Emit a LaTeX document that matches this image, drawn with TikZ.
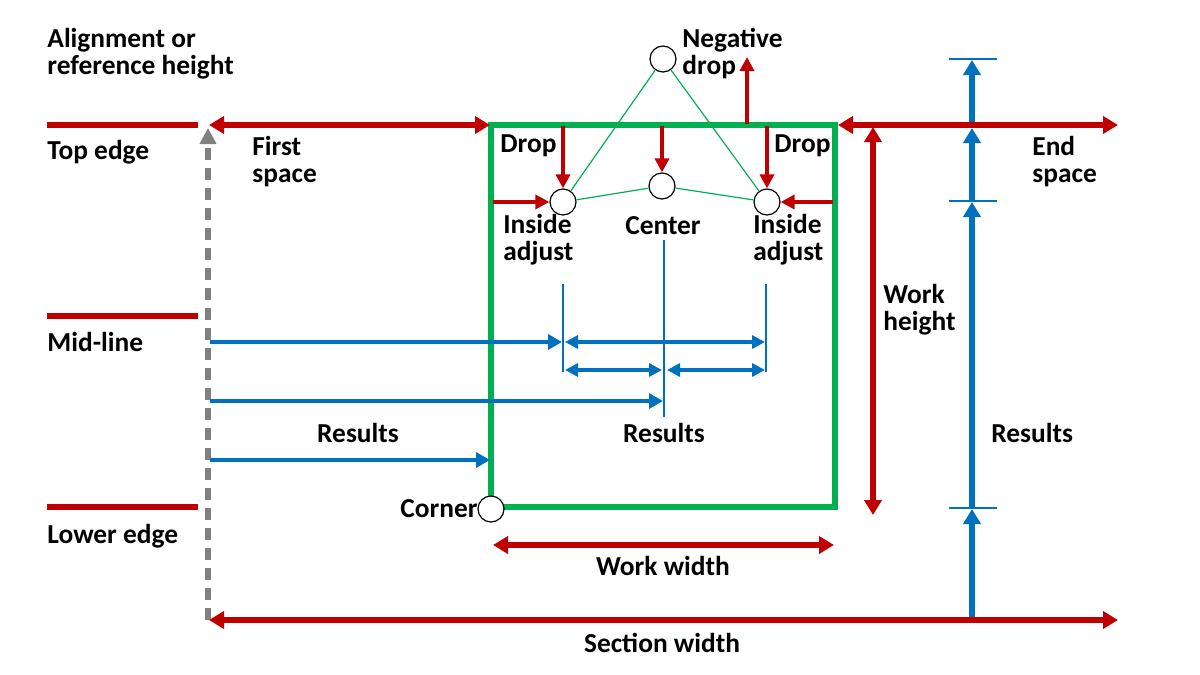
\documentclass[tikz,border=0pt]{standalone}
\usepackage{fontspec}
\setmainfont{Carlito}
\usetikzlibrary{arrows.meta}
\definecolor{myred}{RGB}{192,0,0}
\definecolor{myblue}{RGB}{0,112,192}
\definecolor{mygreen}{RGB}{0,176,80}
\definecolor{mygray}{RGB}{128,128,128}
\begin{document}
\begin{tikzpicture}[x=0.5pt,y=-0.5pt,
  lbl/.style={font=\fontsize{13.7}{13.5}\selectfont\bfseries, inner sep=0pt, align=left},
  redl/.style={draw=myred, line width=2.7pt},
  redd/.style={redl, {Triangle[length=7.5pt,width=8.5pt]}-{Triangle[length=7.5pt,width=8.5pt]}},
  reds/.style={draw=myred, line width=2.4pt, -{Triangle[length=7pt,width=7pt]}},
  bluea/.style={draw=myblue, line width=2.3pt, -{Triangle[length=7pt,width=7.5pt]}},
  blued/.style={draw=myblue, line width=2.3pt, {Triangle[length=6.5pt,width=6.5pt]}-{Triangle[length=6.5pt,width=6.5pt]}},
  bluev/.style={draw=myblue, line width=2.7pt, -{Triangle[length=7.5pt,width=8.5pt]}},
  thinb/.style={draw=myblue, line width=0.6pt},
  pt/.style={circle, draw=black, fill=white, line width=0.6pt, minimum size=13pt, inner sep=0pt},
  link/.style={draw=mygreen, line width=0.6pt}
]
\useasboundingbox (0,0) rectangle (1200,675);

% left reference lines
\draw[redl] (47,125) -- (198,125);
\draw[redl] (47,316) -- (198,316);
\draw[redl] (47,507) -- (198,507);

% gray dashed reference
\draw[mygray, line width=2.6pt, dash pattern=on 6pt off 4pt, -{Triangle[length=8pt,width=8pt]}] (208,620) -- (208,128);

% green work box
\draw[mygreen, line width=2.6pt] (491,125) rectangle (835,507);

% blue vertical results
\draw[bluev] (972,620) -- (972,509);
\draw[bluev] (972,507) -- (972,202);
\draw[bluev] (972,201) -- (972,128);
\draw[bluev] (972,125) -- (972,60);
\draw[thinb] (949,59) -- (997,59);
\draw[thinb] (949,201) -- (997,201);
\draw[thinb] (949,508) -- (997,508);

% red dimension arrows
\draw[redd] (209,125) -- (490,125);
\draw[redd] (838,125) -- (1118,125);
\draw[redd] (873,127) -- (873,515);
\draw[redd] (493,545) -- (834,545);
\draw[redd] (209,620) -- (1118,620);

% circles
\node[pt] (neg) at (663,59) {};
\node[pt] (inl) at (563,202) {};
\node[pt] (cen) at (662,186) {};
\node[pt] (inr) at (767,202) {};
\node[pt] (cor) at (491,509) {};

% green links
\draw[link] (neg) -- (inl);
\draw[link] (neg) -- (inr);
\draw[link] (inl) -- (cen);
\draw[link] (cen) -- (inr);

% drop arrows
\draw[reds] (563,126) -- (inl.north);
\draw[reds] (662,126) -- (cen.north);
\draw[reds] (767,126) -- (inr.north);
\draw[reds] (747,124) -- (747,57);
\draw[reds] (493,202) -- (inl.west);
\draw[reds] (833,202) -- (inr.east);

% thin blue guides
\draw[thinb] (563,284) -- (563,372);
\draw[thinb] (664,240) -- (664,417);
\draw[thinb] (766,284) -- (766,372);

% blue horizontal results
\draw[bluea] (210,342) -- (562,342);
\draw[blued] (565,342) -- (765,342);
\draw[blued] (565,370) -- (662,370);
\draw[blued] (667,370) -- (765,370);
\draw[bluea] (210,401) -- (663,401);
\draw[bluea] (210,460) -- (490,460);

% labels
\node[lbl, anchor=west] (alg) at (47,54) {Alignment or\\reference height};
\node[lbl, anchor=west] (top) at (47,152) {Top edge};
\node[lbl, anchor=west] (mid) at (47,342) {Mid-line};
\node[lbl, anchor=west] (low) at (47,536) {Lower edge};
\node[lbl, anchor=west] (first) at (252,162) {First\\space};
\node[lbl, anchor=west] (dropl) at (500,146) {Drop};
\node[lbl, anchor=west] (dropr) at (774,146) {Drop};
\node[lbl, anchor=west] (negt) at (682,54) {Negative\\drop};
\node[lbl, anchor=west] (insl) at (503,240) {Inside\\adjust};
\node[lbl] (centt) at (663,226) {Center};
\node[lbl, anchor=west] (insr) at (753,240) {Inside\\adjust};
\node[lbl, anchor=west] (endsp) at (1032,162) {End\\space};
\node[lbl, anchor=west] (workh) at (883,310) {Work\\height};
\node[lbl] (res1) at (358,433) {Results};
\node[lbl] (res2) at (664,433) {Results};
\node[lbl, anchor=west] (res3) at (991,433) {Results};
\node[lbl] (ww) at (663,566) {Work width};
\node[lbl] (sw) at (662,643) {Section width};
\node[lbl, anchor=east] (corner) at (478,509) {Corner};
\end{tikzpicture}
\end{document}
